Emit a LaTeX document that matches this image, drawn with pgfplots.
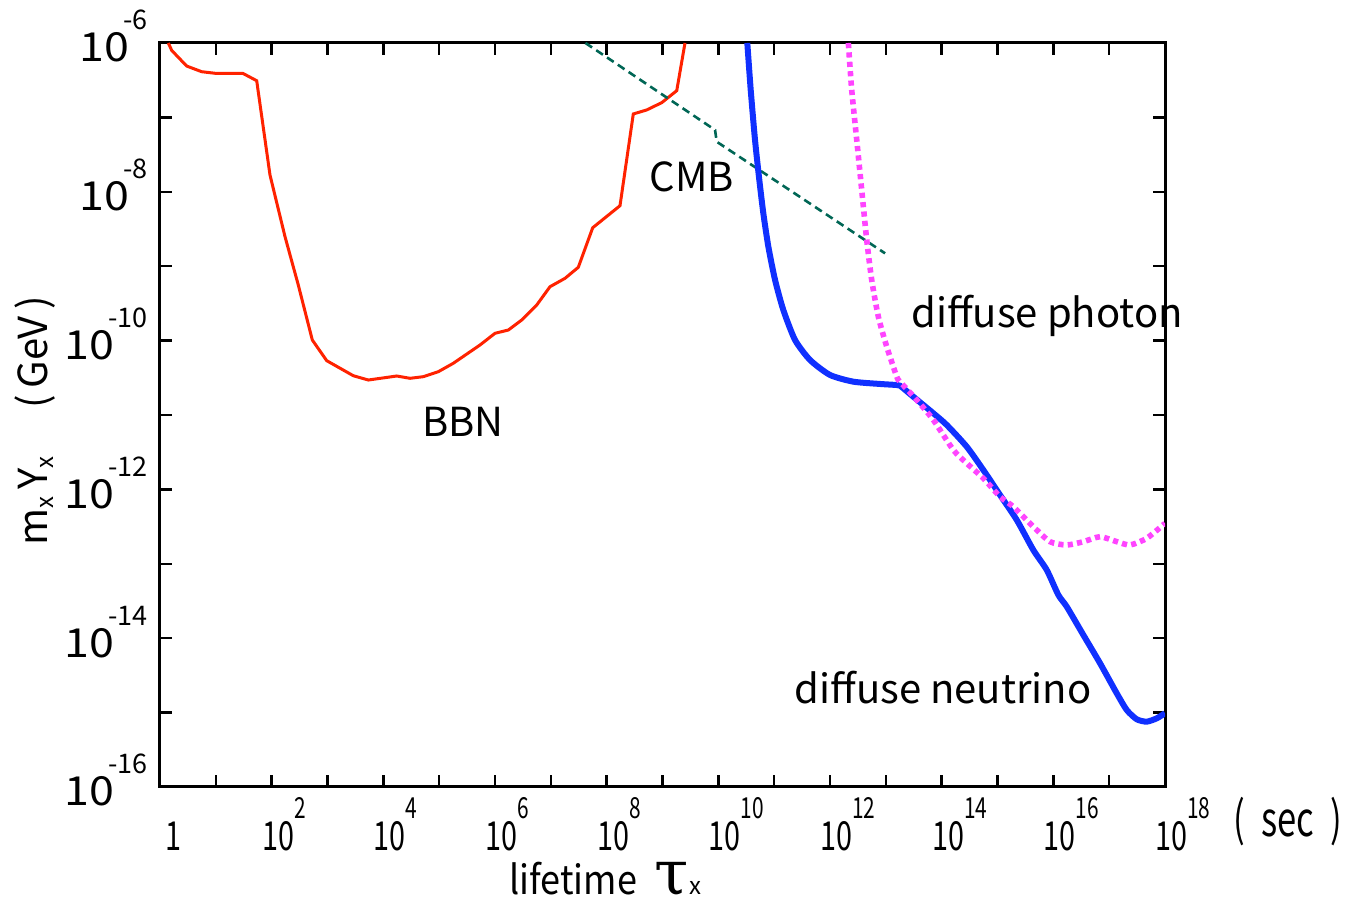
\documentclass[border=0pt]{standalone}
\usepackage{fontspec}
\setmainfont{Noto Sans CJK JP}
\newfontfamily\condfont[FakeStretch=0.72]{Noto Sans CJK JP}
\newfontfamily\lblfont[FakeStretch=0.9]{Noto Sans CJK JP}
\newfontfamily\widefont[FakeStretch=1.12]{Noto Sans CJK JP}
\newfontfamily\taufont{DejaVu Serif}
\usepackage{pgfplots}
\pgfplotsset{compat=1.18}
\newcommand{\xl}[1]{{\condfont 10\raisebox{16pt}{\fontsize{14.5}{14.5}\selectfont #1}}}
\newcommand{\xone}{{\condfont\hspace{7.5pt}1\raisebox{16pt}{\fontsize{14.5}{14.5}\selectfont\vphantom{2}}}}
\newcommand{\yl}[1]{{\widefont 10}\kern-3pt\raisebox{16pt}{\fontsize{13.5}{13.5}\selectfont #1}}
\definecolor{bbnred}{RGB}{255,34,0}
\definecolor{cmbgreen}{RGB}{0,102,85}
\definecolor{nublue}{RGB}{16,48,255}
\definecolor{phmag}{RGB}{255,68,255}

% exponents: log10(tau/sec)  log10(m Y / GeV)
\pgfplotstableread{
lx ly
0.149 -6.0
0.21 -6.10
0.478 -6.31
0.747 -6.386
0.985 -6.407
1.481 -6.407
1.732 -6.507
1.970 -7.774
2.239 -8.603
2.477 -9.253
2.728 -9.992
2.986 -10.27
3.462 -10.472
3.731 -10.530
4.240 -10.476
4.478 -10.507
4.716 -10.485
4.985 -10.418
5.253 -10.305
5.732 -10.059
6.0 -9.902
6.239 -9.858
6.479 -9.723
6.747 -9.522
6.985 -9.276
7.254 -9.163
7.492 -9.015
7.750 -8.483
8.239 -8.187
8.477 -6.954
8.717 -6.90
8.986 -6.802
9.255 -6.641
9.403 -6.0
}\bbn
\pgfplotstableread{
lx ly
7.62 -6.0
9.941 -7.169
9.971 -7.327
12.986 -8.827
}\cmb
\pgfplotstableread{
lx ly
10.519 -6.0
10.580 -6.632
10.657 -7.304
10.734 -7.841
10.806 -8.289
10.896 -8.738
11.016 -9.185
11.164 -9.589
11.374 -9.992
11.643 -10.261
12.0 -10.462
12.418 -10.552
12.896 -10.583
13.196 -10.597
13.254 -10.606
13.492 -10.754
13.851 -10.977
14.091 -11.134
14.449 -11.426
14.746 -11.739
15.045 -12.075
15.345 -12.411
15.642 -12.815
15.882 -13.083
16.090 -13.419
16.241 -13.577
16.538 -13.957
16.837 -14.337
17.136 -14.741
17.315 -14.965
17.494 -15.090
17.673 -15.122
17.852 -15.077
18.0 -15.009
}\neutrino
\pgfplotstableread{
lx ly
12.329 -6.0
12.389 -6.632
12.479 -7.304
12.568 -7.976
12.658 -8.648
12.747 -9.185
12.866 -9.679
13.016 -10.082
13.196 -10.485
13.254 -10.552
13.554 -10.798
13.851 -11.067
14.209 -11.470
14.449 -11.649
14.746 -11.851
15.045 -12.098
15.284 -12.233
15.642 -12.501
15.941 -12.703
16.240 -12.747
16.538 -12.703
16.837 -12.636
17.136 -12.703
17.374 -12.747
17.673 -12.657
18.0 -12.456
}\photon

\begin{document}
\begin{tikzpicture}
\path[use as bounding box] (-80pt,-61pt) rectangle (594.5pt,393.5pt);
\begin{axis}[
  at={(0,0)}, anchor=south west,
  scale only axis, width=502.5pt, height=372pt,
  xmin=0, xmax=18, ymin=-16, ymax=-6,
  clip mode=individual,
  axis line style={line width=1.5pt},
  tick style={line width=1.2pt, black},
  major tick length=6pt,
  xtick={0,...,18},
  xticklabels={\xone,,\xl{2},,\xl{4},,\xl{6},,\xl{8},,\xl{10},,\xl{12},,\xl{14},,\xl{16},,\xl{18}},
  ytick={-16,...,-6},
  yticklabels={\yl{-16},,\yl{-14},,\yl{-12},,\yl{-10},,\yl{-8},,\yl{-6}},
  tick label style={font=\fontsize{20}{24}\selectfont, inner sep=0pt},
  xticklabel style={anchor=north west, xshift=-5pt, yshift=-5pt},
  yticklabel style={anchor=base east, xshift=-6pt, yshift=-9.5pt},
  xlabel={{\lblfont lifetime}\hspace{9pt}{\taufont\fontsize{31}{31}\selectfont τ}{\fontsize{12}{12}\selectfont x}},
  ylabel={m\raisebox{-3pt}{\fontsize{12}{12}\selectfont x}\,Y\raisebox{-3pt}{\fontsize{12}{12}\selectfont x}\hspace{24pt}(\,GeV\,)},
  every axis x label/.style={at={(axis description cs:0.443,-0.124)}, anchor=center, inner sep=1pt, font=\fontsize{20}{24}\selectfont},
  every axis y label/.style={at={(axis description cs:-0.1244,0.492)}, anchor=center, rotate=90, font=\fontsize{20}{24}\selectfont},
]
\addplot[bbnred, line width=1.5pt] table[x=lx,y=ly] {\bbn};
\addplot[cmbgreen, line width=1.3pt, dash pattern=on 4pt off 2.5pt] table[x=lx,y=ly] {\cmb};
\addplot[nublue, line width=3pt, smooth, tension=0.4] table[x=lx,y=ly] {\neutrino};
\addplot[phmag, line width=2.8pt, dash pattern=on 2.6pt off 2.1pt, smooth, tension=0.4] table[x=lx,y=ly] {\photon};
\node[font=\fontsize{20}{24}\selectfont] at (axis cs:5.427,-11.094) {BBN};
\node[font=\fontsize{20}{24}\selectfont] at (axis cs:9.529,-7.801) {CMB};
\node[font=\fontsize{20}{24}\selectfont] at (axis cs:15.888,-9.669) {diffuse photon};
\node[font=\fontsize{20}{24}\selectfont] at (axis cs:14.025,-14.669) {diffuse neutrino};
\node[font=\fontsize{24}{28}\selectfont\condfont] at (axis description cs:1.1224,-0.047) {(\,\,sec\,\,)};
\end{axis}
\end{tikzpicture}
\end{document}
